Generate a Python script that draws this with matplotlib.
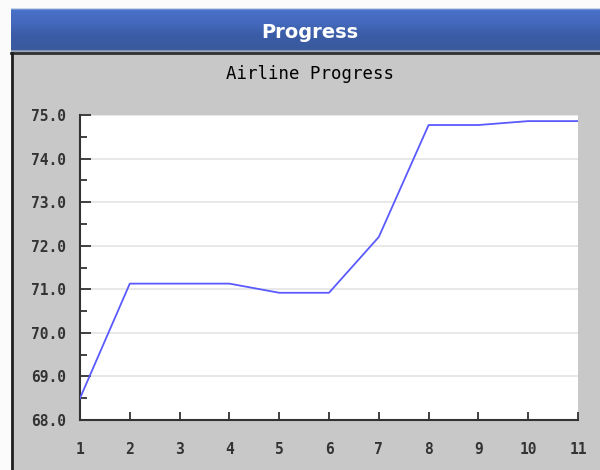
import matplotlib
matplotlib.use("Agg")
import matplotlib.pyplot as plt
import numpy as np
from matplotlib.patches import Rectangle
from matplotlib.ticker import MultipleLocator
from matplotlib.colors import LinearSegmentedColormap

x_vals = [1, 2, 3, 4, 5, 6, 7, 8, 9, 10, 11]
progress = [68.5, 71.13, 71.13, 71.13, 70.92, 70.92, 72.2, 74.77, 74.77, 74.86, 74.86]
x_ticks = [1, 2, 3, 4, 5, 6, 7, 8, 9, 10, 11]
y_ticks = [68.0, 69.0, 70.0, 71.0, 72.0, 73.0, 74.0, 75.0]
header_title = "Progress"
chart_title = "Airline Progress"

W, H = 600, 470
fig = plt.figure(figsize=(W / 100, H / 100), dpi=100)
fig.patch.set_facecolor("#fbfbfb")

def px(x0, y0, w, h):
    return (x0 / W, 1 - (y0 + h) / H, w / W, h / H)

# panel background (drawn first, below the chart)
bg = fig.add_axes(px(0, 0, W, H), zorder=-5)
bg.set_axis_off()
bg.set_xlim(0, W); bg.set_ylim(H, 0)
bg.add_patch(Rectangle((11, 52), 589, H - 52, facecolor="#c8c8c8", edgecolor="none"))
bg.plot([11, W], [53, 53], color="#303030", lw=2)
bg.plot([12, 12], [53, H], color="#202020", lw=2)

# header gradient
hdr = fig.add_axes(px(11, 8, 589, 44), zorder=-4)
hdr.set_axis_off()
cmap = LinearSegmentedColormap.from_list("hdr", ["#c9d6ea", "#4a72c9", "#4468bc", "#3a5ba6", "#3b5a9e", "#9aa8c0"])
stops = np.concatenate([np.full(3, 0.0), np.linspace(0.2, 0.8, 90), np.full(3, 0.8), np.full(4, 1.0)]).reshape(-1, 1)
hdr.imshow(stops, aspect="auto", cmap=cmap, extent=[0, 1, 0, 1], vmin=0, vmax=1)
hdr.set_xlim(0, 1); hdr.set_ylim(0, 1)
fig.text(310 / W, 1 - 32 / H, header_title, color="white", fontsize=14, fontweight="bold",
         ha="center", va="center", family="DejaVu Sans")

fig.text(310 / W, 1 - 74 / H, chart_title, color="black", fontsize=12.5,
         ha="center", va="center", family="DejaVu Sans Mono")

ax = fig.add_axes(px(80, 115, 498, 305), zorder=1)
ax.set_facecolor("white")
ax.plot(x_vals, progress, color="#5a5aff", lw=1.3, zorder=3)
ax.set_xlim(1, 11)
ax.set_ylim(68, 75)
ax.set_xticks(x_ticks)
ax.set_yticks(y_ticks)
ax.set_yticklabels([f"{v:.1f}" for v in y_ticks])
ax.yaxis.set_minor_locator(MultipleLocator(0.5))
ax.grid(axis="y", which="major", color="#e4e4e4", lw=1.2, zorder=0)
for s in ["top", "right"]:
    ax.spines[s].set_visible(False)
for s in ["left", "bottom"]:
    ax.spines[s].set_color("#333333")
    ax.spines[s].set_linewidth(1.5)
ax.tick_params(axis="both", which="both", direction="in", color="#333333", width=1.3,
               labelsize=10.5, labelcolor="#333333")
ax.tick_params(axis="y", which="major", length=8, pad=10)
ax.tick_params(axis="y", which="minor", length=5)
ax.tick_params(axis="x", which="major", length=6, pad=16)
for lab in ax.get_xticklabels() + ax.get_yticklabels():
    lab.set_family("DejaVu Sans Mono")
    lab.set_fontweight("bold")

fig.savefig("out.png", dpi=100)
